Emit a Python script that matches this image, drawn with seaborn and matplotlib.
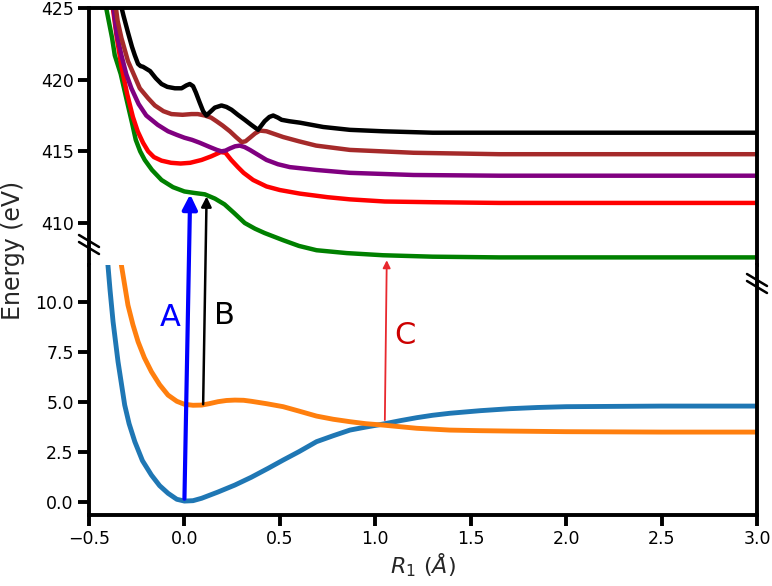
import numpy as np
import pandas as pd
import matplotlib
matplotlib.use("Agg")
import matplotlib.pyplot as plt
from matplotlib.patches import ConnectionPatch
import seaborn as sns

# ---------------- data ----------------
# upper panel: core-excited states (eV)
r_black = [-0.34, -0.32, -0.296, -0.275, -0.26, -0.243, -0.23, -0.217, -0.18, -0.15, -0.12, -0.09, -0.05,
           -0.015, 0.01, 0.028, 0.045, 0.06, 0.08, 0.098, 0.115, 0.135, 0.159, 0.194, 0.22, 0.247, 0.28,
           0.316, 0.35, 0.386, 0.40, 0.42, 0.445, 0.465, 0.49, 0.509, 0.55, 0.605, 0.727, 0.867, 1.04,
           1.3, 1.65, 3.0]
e_black = [425.6, 424.5, 423.3, 422.3, 421.7, 421.1, 420.95, 420.9, 420.6, 420.1, 419.7, 419.5, 419.4,
           419.4, 419.6, 419.7, 419.55, 419.1, 418.4, 417.8, 417.5, 417.75, 418.05, 418.2, 418.1, 417.9, 417.55,
           417.2, 416.85, 416.5, 416.75, 417.1, 417.4, 417.5, 417.35, 417.2, 417.1, 417.0, 416.7, 416.5, 416.4,
           416.3, 416.3, 416.3]

r_brown = [-0.365, -0.35, -0.33, -0.296, -0.26, -0.234, -0.19, -0.155, -0.11, -0.068, -0.01, 0.037, 0.07,
           0.107, 0.14, 0.168, 0.2, 0.238, 0.27, 0.30, 0.32, 0.343, 0.37, 0.395, 0.43, 0.517, 0.6, 0.69,
           0.867, 1.2, 1.65, 3.0]
e_brown = [425.6, 424.1, 422.9, 421.3, 420.2, 419.4, 418.7, 418.2, 417.8, 417.6, 417.55, 417.6, 417.6,
           417.5, 417.35, 417.1, 416.8, 416.4, 416.0, 415.65, 415.7, 415.95, 416.25, 416.45, 416.4, 416.0, 415.7, 415.4,
           415.1, 414.9, 414.8, 414.8]

r_purple = [-0.385, -0.372, -0.355, -0.33, -0.305, -0.278, -0.24, -0.2, -0.14, -0.086, -0.04, 0.0, 0.04,
            0.08, 0.133, 0.17, 0.194, 0.215, 0.238, 0.265, 0.29, 0.315, 0.343, 0.38, 0.43, 0.49, 0.552,
            0.692, 0.867, 1.2, 1.65, 3.0]
e_purple = [426.0, 425.0, 423.2, 421.7, 420.4, 419.4, 418.3, 417.5, 416.85, 416.4, 416.15, 415.95, 415.8,
            415.6, 415.3, 415.1, 415.0, 415.05, 415.2, 415.35, 415.4, 415.3, 415.1, 414.8, 414.4, 414.1, 413.9,
            413.7, 413.5, 413.35, 413.3, 413.3]

r_red = [-0.39, -0.375, -0.355, -0.33, -0.30, -0.27, -0.245, -0.217, -0.19, -0.16, -0.12, -0.07, -0.02,
         0.03, 0.09, 0.14, 0.19, 0.215, 0.245, 0.28, 0.31, 0.36, 0.43, 0.5, 0.605, 0.75, 0.867, 1.05,
         1.3, 1.65, 3.0]
e_red = [426.5, 425.0, 423.0, 420.9, 419.0, 417.4, 416.4, 415.6, 415.0, 414.6, 414.35, 414.2, 414.15,
         414.2, 414.4, 414.65, 414.95, 414.9, 414.4, 413.9, 413.5, 413.0, 412.55, 412.3, 412.05, 411.8, 411.65, 411.5,
         411.45, 411.4, 411.4]

r_green = [-0.42, -0.41, -0.379, -0.365, -0.334, -0.315, -0.296, -0.275, -0.255, -0.232, -0.208, -0.17,
           -0.12, -0.06, 0.0, 0.05, 0.107, 0.16, 0.21, 0.26, 0.316, 0.37, 0.42, 0.517, 0.6, 0.692, 0.85,
           1.04, 1.3, 1.65, 3.0]
e_green = [426.5, 425.0, 422.9, 421.7, 420.4, 419.3, 418.2, 417.0, 415.8, 415.0, 414.4, 413.7,
           413.0, 412.5, 412.2, 412.1, 412.0, 411.7, 411.3, 410.7, 410.0, 409.6, 409.3, 408.8, 408.4, 408.1, 407.9,
           407.75, 407.65, 407.6, 407.6]

# lower panel: valence states (eV)
r_blue = [-0.405, -0.39, -0.374, -0.348, -0.313, -0.29, -0.26, -0.22, -0.173, -0.13, -0.086, -0.04, 0.0,
          0.045, 0.09, 0.175, 0.264, 0.35, 0.439, 0.517, 0.6, 0.692, 0.78, 0.867, 0.95, 1.04, 1.13,
          1.217, 1.3, 1.39, 1.55, 1.706, 1.85, 2.0, 2.5, 3.0]
e_blue = [12.3, 10.6, 9.0, 7.0, 4.83, 3.9, 3.0, 2.05, 1.33, 0.8, 0.42, 0.12, 0.03,
          0.05, 0.17, 0.48, 0.83, 1.22, 1.67, 2.08, 2.5, 3.0, 3.3, 3.58, 3.73, 3.88, 4.05,
          4.2, 4.32, 4.42, 4.55, 4.65, 4.71, 4.75, 4.78, 4.78]

r_orange = [-0.335, -0.296, -0.27, -0.243, -0.21, -0.173, -0.13, -0.086, -0.04, 0.0, 0.045, 0.09, 0.13,
            0.176, 0.22, 0.264, 0.31, 0.35, 0.43, 0.517, 0.6, 0.692, 0.78, 0.867, 0.95, 1.04, 1.217,
            1.39, 1.55, 1.706, 2.0, 2.5, 3.0]
e_orange = [12.1, 9.83, 8.85, 8.0, 7.2, 6.5, 5.85, 5.33, 5.02, 4.87, 4.82, 4.83, 4.9,
            5.0, 5.06, 5.08, 5.07, 5.02, 4.9, 4.75, 4.53, 4.28, 4.12, 4.0, 3.9, 3.83, 3.67,
            3.58, 3.55, 3.53, 3.5, 3.48, 3.48]

# transitions: (R_start, E_start lower panel) -> (R_end, E_end upper panel)
arrow_labels = ["A", "B", "C"]
arrow_start = [(0.0, 0.15), (0.098, 4.87), (1.05, 4.08)]
arrow_end = [(0.03, 412.0), (0.116, 411.85), (1.06, 407.4)]
label_pos = [(-0.077, 9.2), (0.21, 9.3), (1.155, 8.3)]

top_ticks = [410, 415, 420, 425]
bot_ticks = [0.0, 2.5, 5.0, 7.5, 10.0]
x_ticks = [-0.5, 0.0, 0.5, 1.0, 1.5, 2.0, 2.5, 3.0]

# ---------------- figure ----------------
sns.set_style("ticks")
plt.rcParams["font.family"] = ["DejaVu Sans"]

fig = plt.figure(figsize=(7.72, 5.86), dpi=100)
L, W = 0.1153, 0.8653
ax_top = fig.add_axes([L, 0.5478, W, 0.4385])
ax_bot = fig.add_axes([L, 0.1212, W, 0.4266])

lw = 3.2
for r, e, c in [(r_green, e_green, "green"), (r_red, e_red, "red"), (r_purple, e_purple, "purple"),
                (r_brown, e_brown, "brown"), (r_black, e_black, "black")]:
    sns.lineplot(x=r, y=e, ax=ax_top, color=c, linewidth=lw, legend=False, sort=False,
                 solid_joinstyle="round")

sns.lineplot(x=r_blue, y=e_blue, ax=ax_bot, color="#1f77b4", linewidth=3.5, legend=False, sort=False,
             solid_joinstyle="round")
sns.lineplot(x=r_orange, y=e_orange, ax=ax_bot, color="#ff7f0e", linewidth=3.5, legend=False, sort=False,
             solid_joinstyle="round")

ax_top.set_xlim(-0.5, 3.0)
ax_bot.set_xlim(-0.5, 3.0)
ax_top.set_ylim(407.07, 425)
ax_bot.set_ylim(-0.665, 11.835)

ax_top.set_yticks(top_ticks)
ax_top.set_yticklabels([str(t) for t in top_ticks])
ax_bot.set_yticks(bot_ticks)
ax_bot.set_yticklabels([f"{t:.1f}" for t in bot_ticks])
ax_bot.set_xticks(x_ticks)
ax_bot.set_xticklabels([f"{t:.1f}".replace("-", "\u2212") for t in x_ticks])
ax_top.set_xticks([])

spw = 2.8
for ax in (ax_top, ax_bot):
    for s in ax.spines.values():
        s.set_linewidth(spw)
        s.set_color("black")
    ax.tick_params(axis="both", direction="out", length=8, width=spw, labelsize=12.5,
                   colors="black", pad=3)
    ax.set_xlabel("")
    ax.set_ylabel("")
ax_top.spines["bottom"].set_visible(False)
ax_bot.spines["top"].set_visible(False)

ax_bot.set_xlabel("$R_1\\ (Å)$", fontsize=16, labelpad=2)
fig.text(0.017, 0.572, "Energy (eV)", rotation=90, ha="center", va="center", fontsize=17)

# break marks
kw = dict(color="black", lw=1.8, clip_on=False, transform=fig.transFigure)
def brk(cx, cy):
    dx, dy = 10 / 772, 6 / 586
    for off in (0.0, -7 / 586):
        fig.add_artist(plt.Line2D([cx - dx, cx + dx], [cy + dy + off, cy - dy + off], **kw))
brk(89 / 772, 1 - 241 / 586)
brk(757 / 772, 1 - 280 / 586)

# transition arrows
arrow_colors = ["blue", "black", "#e8282e"]
text_colors = ["blue", "black", "#cc0000"]
arrow_lw = [3.0, 1.8, 1.3]
arrow_ms = [22, 15, 11]
for (s, e, c, w, ms) in zip(arrow_start, arrow_end, arrow_colors, arrow_lw, arrow_ms):
    cp = ConnectionPatch(xyA=s, coordsA=ax_bot.transData, xyB=e, coordsB=ax_top.transData,
                         arrowstyle="-|>", mutation_scale=ms, lw=w, color=c, shrinkA=0, shrinkB=0)
    fig.add_artist(cp)
for lab, (x, y), c in zip(arrow_labels, label_pos, text_colors):
    ax_bot.text(x, y, lab, color=c, fontsize=22, ha="center", va="center")

fig.savefig("out.png", dpi=100)
